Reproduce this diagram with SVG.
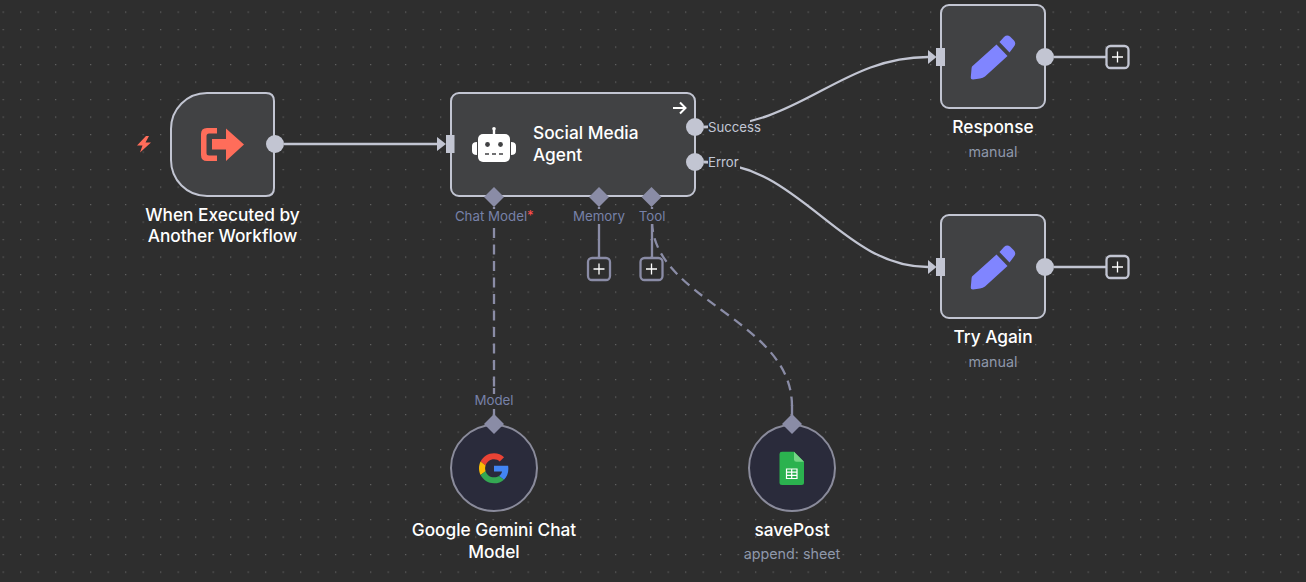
<svg xmlns="http://www.w3.org/2000/svg" width="1306" height="582" viewBox="0 0 1306 582">
<style>
text{font-family:Inter,"Noto Sans","Liberation Sans",sans-serif}
.node{fill:#414244;stroke:#c2c5d2;stroke-width:2}
.sub{fill:#2a2b3b;stroke:#8a8b9b;stroke-width:2}
.port{fill:#c2c5d2}
.wire{fill:none;stroke:#c2c5d2;stroke-width:2.300}
.aux{fill:none;stroke:#8a8ca6;stroke-width:2.300}
.dash{stroke-dasharray:10 6.500}
.dia{fill:#8a8ca6}
.title{fill:#fff;font-size:17.300px;font-weight:500;text-anchor:middle}
.left{text-anchor:start}
.meta{fill:#8e98ab;font-size:14.300px;text-anchor:middle}
.plabel{fill:#c2c8d6;font-size:13.200px}
.alabel{fill:#7781a8;font-size:13.300px;text-anchor:middle}
.lblbg{fill:#2e2e2e}
.pm{fill:#2e2e2e;stroke-width:2.300}
.pv{stroke:#fff;stroke-width:1.300;fill:none}
</style>
<defs>
<pattern id="grid" width="17.5" height="17.5" patternUnits="userSpaceOnUse" x="2.600" y="11.500"><rect width="1.200" height="1.200" fill="#646464"/></pattern>
<g id="pencil"><path d="M972 66.500L996.500 44.500L1007.500 56L985 76.500Q983 78 980 78.500L973 79.500Q970.500 79.500 970.800 77L971.500 69Q971.500 67.500 972 66.500Z" fill="#8085ff"/><path d="M999.500 42L1004 37Q1007 34.500 1010 36.500L1014 40.500Q1016.500 43.500 1014 46.500L1009.500 52.500Z" fill="#8085ff"/></g>
</defs>
<rect width="1306" height="582" fill="#2e2e2e"/>
<rect width="1306" height="582" fill="url(#grid)"/>

<g id="connectors">
<path class="wire" d="M284 144H438"/>
<path d="M437 137L446 144L437 151Z" class="port"/>
<path class="wire" d="M704 127C800 127 840 57 928 57"/>
<path class="wire" d="M704 162C800 162 840 267 928 267"/>
<path d="M928 50L936.500 57L928 64Z" class="port"/>
<path d="M928 260L936.500 267L928 274Z" class="port"/>
<path class="wire" d="M1054 57H1106"/>
<path class="wire" d="M1054 267H1106"/>
<path class="aux" d="M599 207V258"/>
<path class="aux" d="M652 207V258"/>
<path class="aux dash" d="M494 228V390"/>
<path class="aux" d="M494 207V212M494 388V395M494 409V416"/>
<path class="aux dash" d="M652 222C654 300 792 320 792 406"/>
<path class="aux" d="M792 405V416"/>
</g>

<g id="trigger">
<path class="node" d="M207 93H266Q274 93 274 101V188Q274 196 266 196H207C187 196 171 180 171 160V129C171 109 187 93 207 93Z"/>
<path d="M217 128V133.500H209Q206.500 133.500 206.500 136V153Q206.500 155.500 209 155.500H217V161H207Q201 161 201 155V134Q201 128 207 128Z" fill="#ff6d5a"/>
<path d="M212 139H226V128.500L244 144.500L226 161V149.500H212Z" fill="#ff6d5a"/>
<path d="M146 136L137 145.500H142.500L140 152.500L151 142.500H145.500L149 136Z" fill="#ff6d5a"/>
<circle class="port" cx="275" cy="144" r="9"/>
<text class="title" x="222.500" y="221">When Executed by</text>
<text class="title" x="222.500" y="242">Another Workflow</text>
</g>

<g id="agent">
<rect class="node" x="451" y="93" width="244" height="103" rx="8"/>
<rect class="port" x="446" y="135" width="8.500" height="18"/>
<g>
<rect x="478" y="134" width="32" height="28" rx="5" fill="#fff"/>
<path d="M492.800 134V129.500H495.200V134Z" fill="#fff"/>
<circle cx="494" cy="128.800" r="1.800" fill="#fff"/>
<path d="M477 142V155Q472 155 472 151V146Q472 142 477 142ZM511 142V155Q516 155 516 151V146Q516 142 511 142Z" fill="#fff"/>
<circle cx="487.500" cy="144.500" r="2.400" fill="#414244"/>
<circle cx="500.500" cy="144.500" r="2.400" fill="#414244"/>
<path d="M485 154H489M492 154H496M499 154H503" stroke="#414244" stroke-width="1.500"/>
</g>
<text class="title left" x="533" y="139">Social Media</text>
<text class="title left" x="533" y="161">Agent</text>
<path d="M673 108H685M680 102.500L685.500 108L680 113.500" fill="none" stroke="#fff" stroke-width="2"/>
<circle class="port" cx="695" cy="127" r="9"/>
<circle class="port" cx="695" cy="162" r="9"/>
<rect class="lblbg" x="708" y="119" width="42" height="16"/>
<rect class="lblbg" x="708" y="154" width="32" height="16"/>
<path class="wire" d="M704 127H708M704 162H708"/>
<text class="plabel" x="708" y="132">Success</text>
<text class="plabel" x="708" y="167">Error</text>
<path class="dia" d="M494 187L504 197L494 207L484 197Z"/>
<path class="dia" d="M599 187L609 197L599 207L589 197Z"/>
<path class="dia" d="M651.500 187L661.500 197L651.500 207L641.500 197Z"/>
<rect class="lblbg" x="455" y="209" width="78" height="15"/>
<rect class="lblbg" x="573" y="209" width="52" height="15"/>
<rect class="lblbg" x="639" y="209" width="27" height="15"/>
<text class="alabel" x="491" y="221">Chat Model</text>
<text x="527" y="220" font-size="13.300" fill="#ff4d4d">*</text>
<text class="alabel" x="599" y="221">Memory</text>
<text class="alabel" x="652" y="221">Tool</text>
</g>

<g id="add-memory">
<rect class="pm" x="588" y="258" width="22" height="22" rx="4" stroke="#8a8ca6"/>
<path class="pv" d="M593.500 269H604.500M599 263.500V274.500"/>
</g>
<g id="add-tool">
<rect class="pm" x="640.500" y="258" width="22" height="22" rx="4" stroke="#8a8ca6"/>
<path class="pv" d="M646 269H657M651.500 263.500V274.500"/>
</g>

<g id="response">
<rect class="node" x="941" y="5" width="104" height="103" rx="8"/>
<rect class="port" x="936" y="48" width="9" height="18"/>
<use href="#pencil"/>
<circle class="port" cx="1045" cy="57" r="9"/>
<text class="title" x="993" y="133">Response</text>
<text class="meta" x="993" y="157">manual</text>
</g>
<g id="add-response">
<rect class="pm" x="1106.500" y="46" width="22" height="22" rx="4" stroke="#c2c5d2"/>
<path class="pv" d="M1112 57H1123M1117.500 51.500V62.500"/>
</g>

<g id="try-again">
<rect class="node" x="941" y="215" width="104" height="103" rx="8"/>
<rect class="port" x="936" y="258" width="9" height="18"/>
<use href="#pencil" y="210"/>
<circle class="port" cx="1045" cy="267" r="9"/>
<text class="title" x="993" y="343">Try Again</text>
<text class="meta" x="993" y="367">manual</text>
</g>
<g id="add-try-again">
<rect class="pm" x="1106.500" y="256" width="22" height="22" rx="4" stroke="#c2c5d2"/>
<path class="pv" d="M1112 267H1123M1117.500 261.500V272.500"/>
</g>

<g id="gemini">
<circle class="sub" cx="494" cy="468" r="43"/>
<path class="dia" d="M494 414L504 424L494 434L484 424Z"/>
<rect class="lblbg" x="474" y="394" width="40" height="15"/>
<text class="alabel" x="494" y="405">Model</text>
<g transform="translate(479 453.300) scale(.625)">
<path fill="#EA4335" d="M24 9.500c3.540 0 6.710 1.220 9.210 3.600l6.850-6.850C35.900 2.380 30.470 0 24 0 14.620 0 6.510 5.380 2.560 13.220l7.980 6.190C12.430 13.720 17.740 9.500 24 9.500z"/>
<path fill="#4285F4" d="M46.980 24.550c0-1.570-.15-3.090-.38-4.550H24v9.020h12.940c-.58 2.960-2.260 5.480-4.780 7.180l7.730 6c4.510-4.180 7.090-10.360 7.090-17.650z"/>
<path fill="#FBBC05" d="M10.530 28.590c-.5-1.450-.78-2.990-.78-4.590s.27-3.140.78-4.590l-7.980-6.190C.92 16.460 0 20.120 0 24c0 3.880.92 7.540 2.560 10.780l7.970-6.190z"/>
<path fill="#34A853" d="M24 48c6.480 0 11.930-2.130 15.890-5.810l-7.730-6c-2.150 1.450-4.920 2.300-8.160 2.300-6.260 0-11.570-4.220-13.470-9.910l-7.980 6.190C6.510 42.620 14.620 48 24 48z"/>
</g>
<text class="title" x="494" y="536">Google Gemini Chat</text>
<text class="title" x="494" y="558">Model</text>
</g>

<g id="save-post">
<circle class="sub" cx="792" cy="468" r="43"/>
<path class="dia" d="M792 414L802 424L792 434L782 424Z"/>
<path d="M782 451.700H794L804 461.700V482.500Q804 485 801.500 485H782Q779.500 485 779.500 482.500V454Q779.500 451.700 782 451.700Z" fill="#2bb24f"/>
<path d="M794 451.700L804 461.700H796.500Q794 461.700 794 459.500Z" fill="#75d586"/>
<path d="M786.500 469H797V478.500H786.500ZM786.500 472.200H797M786.500 475.300H797M791.700 469V478.500" fill="none" stroke="#fff" stroke-width="1.200"/>
<text class="title" x="792" y="536">savePost</text>
<text class="meta" x="792" y="559">append: sheet</text>
</g>
</svg>
